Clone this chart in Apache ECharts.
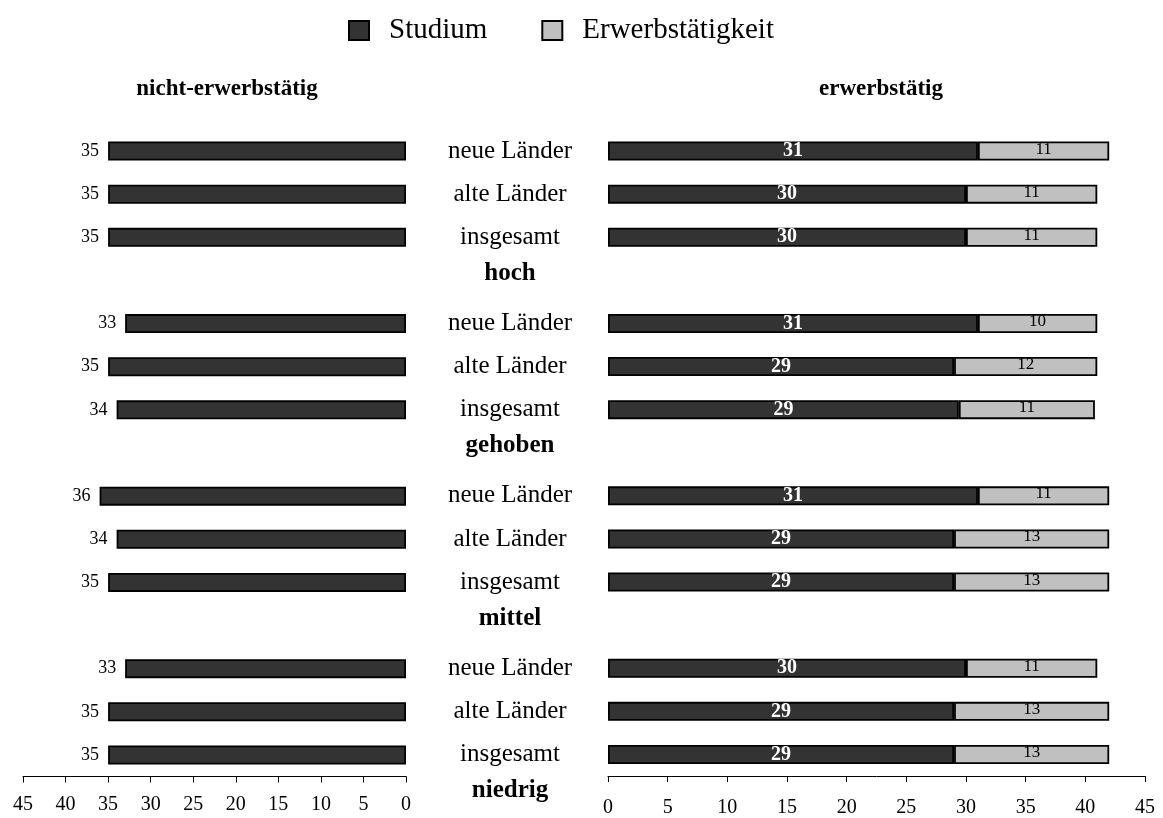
<!DOCTYPE html>
<html>
<head>
<meta charset="utf-8">
<script src="https://cdn.jsdelivr.net/npm/echarts@6/dist/echarts.min.js"></script>
<style>html,body{margin:0;padding:0;background:#fff}#c{width:1163px;height:818px}</style>
</head>
<body>
<div id="c"></div>
<script>
// categories (empty slot between groups carries the group label)
var categories = ['neue Länder','alte Länder','insgesamt','', 'neue Länder','alte Länder','insgesamt','', 'neue Länder','alte Länder','insgesamt','', 'neue Länder','alte Länder','insgesamt'];
var groups = ['hoch','gehoben','mittel','niedrig'];
// nicht-erwerbstätig: Studium
var nichtStudium = [35,35,35,null, 33,35,34,null, 36,34,35,null, 33,35,35];
// erwerbstätig: Studium
var erwStudium = [31,30,30,null, 31,29,29.4,null, 31,29,29,null, 30,29,29];
// erwerbstätig: Erwerbstätigkeit
var erwErwerb = [11,11,11,null, 10,12,11.4,null, 11,13,13,null, 11,13,13];
var xTicks = [0,5,10,15,20,25,30,35,40,45];

var FONT = '"Liberation Serif", "Times New Roman", serif';
var chart = echarts.init(document.getElementById('c'));
var gridTop = 129.5, gridBottom = 41.5;
function roundLabel(p){ return String(Math.round(p.value)); }

var option = {
  animation: false,
  backgroundColor: '#fff',
  textStyle: {fontFamily: FONT},
  title: [
    {text: 'nicht-erwerbstätig', left: 222, top: 73, textAlign: 'center',
     textStyle: {fontFamily: FONT, fontSize: 23, fontWeight: 'bold', color: '#000'}},
    {text: 'erwerbstätig', left: 876, top: 73, textAlign: 'center',
     textStyle: {fontFamily: FONT, fontSize: 23, fontWeight: 'bold', color: '#000'}}
  ],
  legend: {
    data: ['Studium','Erwerbstätigkeit'],
    left: 343, top: 11,
    icon: 'rect',
    itemWidth: 20, itemHeight: 19, itemGap: 54,
    selectedMode: false,
    textStyle: {fontFamily: FONT, fontSize: 29, color: '#000', padding: [0,0,0,15]}
  },
  grid: [
    {left: 23, right: 757, top: gridTop, bottom: gridBottom},
    {left: 608, right: 18, top: gridTop, bottom: gridBottom}
  ],
  xAxis: [
    {gridIndex: 0, type: 'value', min: 0, max: 45, interval: 5, inverse: true,
     axisLine: {show: true, lineStyle: {color: '#000', width: 1}},
     axisTick: {show: true, length: 6, lineStyle: {color: '#000'}},
     splitLine: {show: false},
     axisLabel: {color: '#000', fontFamily: FONT, fontSize: 20, margin: 18,
       formatter: function(v){ return xTicks.indexOf(v) >= 0 ? String(v) : ''; }}},
    {gridIndex: 1, type: 'value', min: 0, max: 45, interval: 5,
     axisLine: {show: true, lineStyle: {color: '#000', width: 1}},
     axisTick: {show: true, length: 6, lineStyle: {color: '#000'}},
     splitLine: {show: false},
     axisLabel: {color: '#000', fontFamily: FONT, fontSize: 20, margin: 22,
       formatter: function(v){ return xTicks.indexOf(v) >= 0 ? String(v) : ''; }}}
  ],
  yAxis: [
    {gridIndex: 0, type: 'category', data: categories, inverse: true,
     axisLine: {show: false}, axisTick: {show: false}, axisLabel: {show: false}},
    {gridIndex: 1, type: 'category', data: categories, inverse: true,
     axisLine: {show: false}, axisTick: {show: false},
     axisLabel: {show: true, color: '#000', fontFamily: FONT, fontSize: 25,
       align: 'center', margin: 98}}
  ],
  series: [
    {name: 'Studium', type: 'bar', xAxisIndex: 0, yAxisIndex: 0, data: nichtStudium,
     barWidth: 19,
     itemStyle: {color: '#333333', borderColor: '#000', borderWidth: 1.8},
     label: {show: true, position: 'left', distance: 9, color: '#000',
       fontFamily: FONT, fontSize: 18, formatter: roundLabel}},
    {name: 'Studium', type: 'bar', xAxisIndex: 1, yAxisIndex: 1, data: erwStudium,
     stack: 'e', barWidth: 19,
     itemStyle: {color: '#333333', borderColor: '#000', borderWidth: 1.8},
     label: {show: true, position: 'inside', color: '#fff', fontWeight: 'bold',
       fontFamily: FONT, fontSize: 20, formatter: roundLabel}},
    {name: 'Erwerbstätigkeit', type: 'bar', xAxisIndex: 1, yAxisIndex: 1, data: erwErwerb,
     stack: 'e', barWidth: 19,
     itemStyle: {color: '#c0c0c0', borderColor: '#000', borderWidth: 1.8},
     label: {show: true, position: 'inside', offset: [0, -2], color: '#000',
       fontFamily: FONT, fontSize: 17, formatter: roundLabel}}
  ]
};
chart.setOption(option);

// group labels placed in the empty category slots
var p13 = chart.convertToPixel({yAxisIndex: 1}, 13);
var p14 = chart.convertToPixel({yAxisIndex: 1}, 14);
var step = p14 - p13;
var cx = chart.convertToPixel({xAxisIndex: 1}, 0) - 98;
var slots = [3, 7, 11, 15];
var graphics = groups.map(function(g, i){
  var y = slots[i] <= 14 ? chart.convertToPixel({yAxisIndex: 1}, slots[i]) : p14 + step;
  return {type: 'text', x: cx, y: y - 7,
    style: {text: g, fill: '#000', font: 'bold 25px ' + FONT, align: 'center', verticalAlign: 'middle'}};
});
chart.setOption({graphic: graphics});
</script>
</body>
</html>
